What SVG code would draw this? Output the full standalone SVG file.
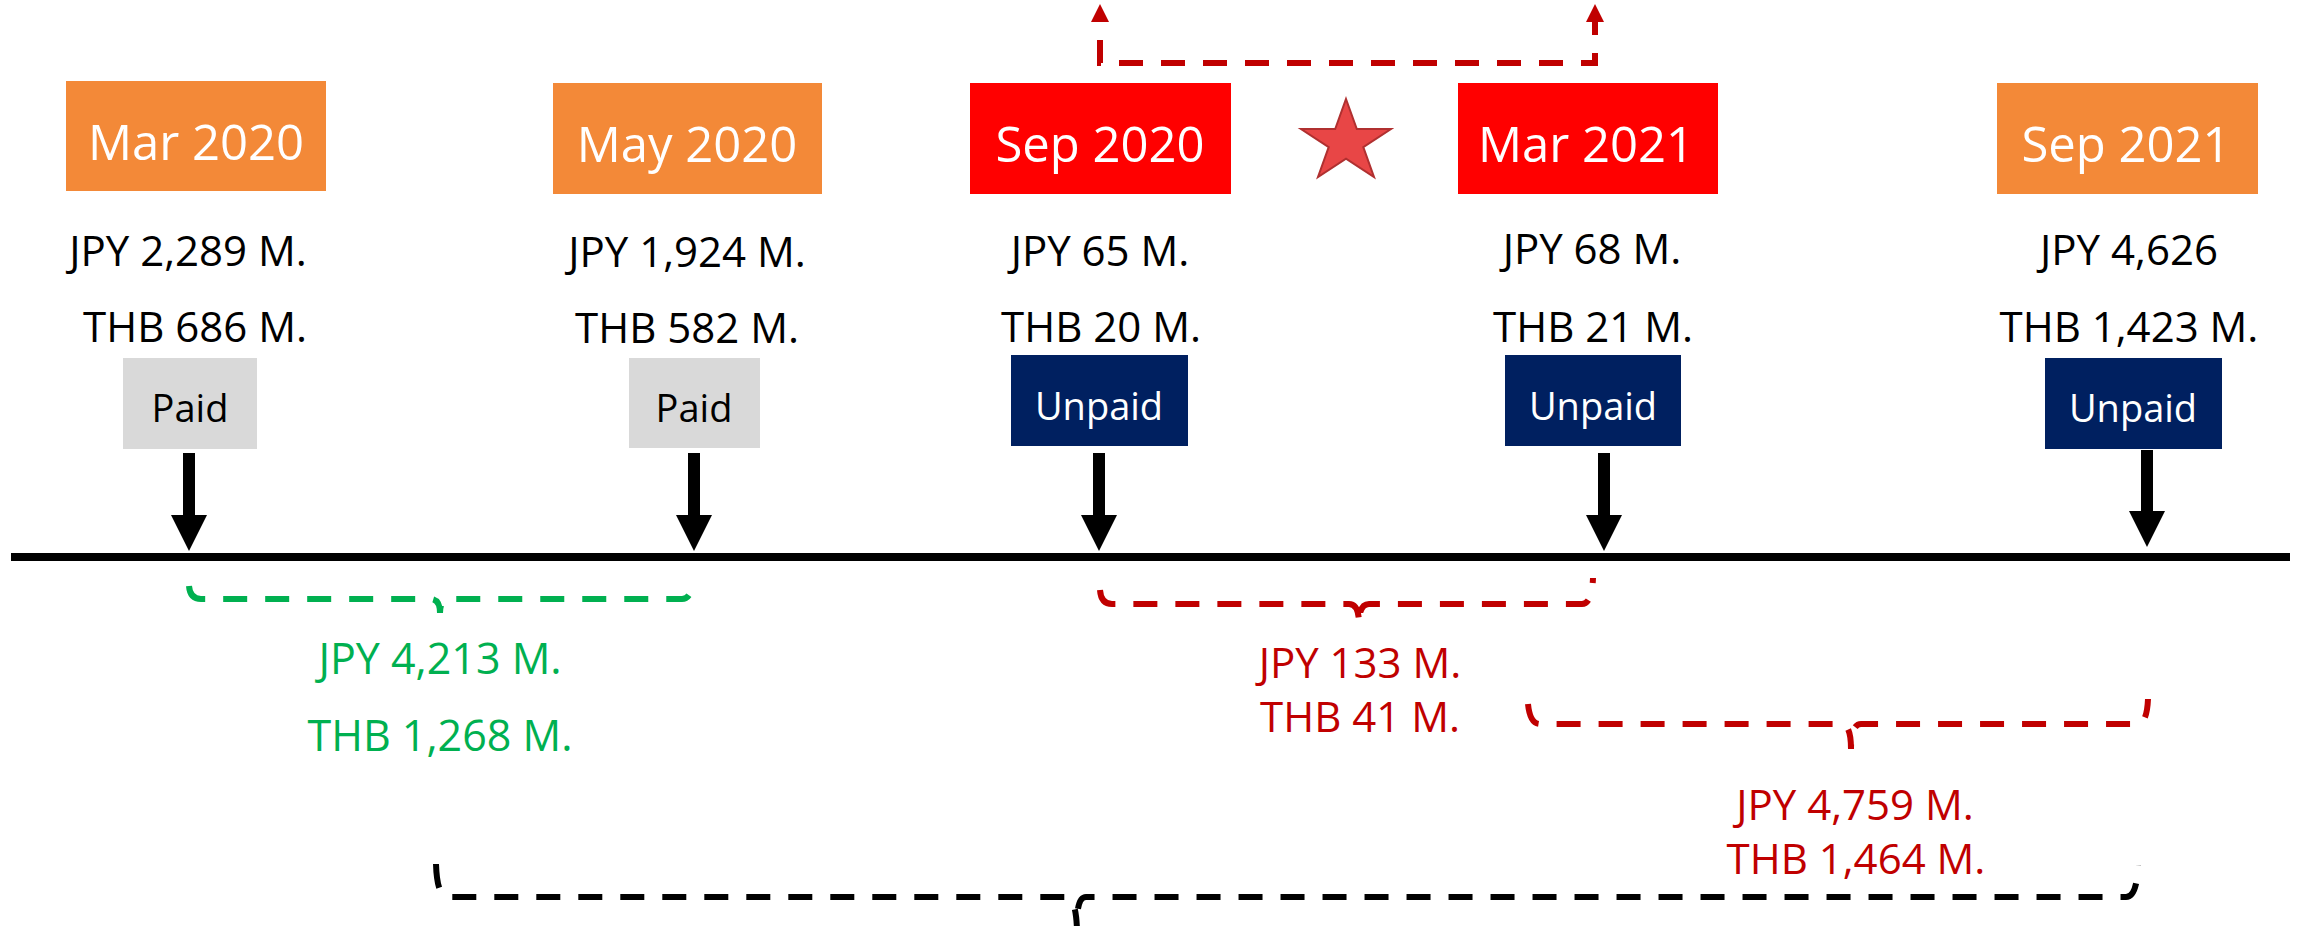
<svg xmlns="http://www.w3.org/2000/svg" width="2300" height="926" viewBox="0 0 2300 926">
<defs>
<style>
text{font-family:"Open Sans","Noto Sans","Liberation Sans",sans-serif;text-anchor:middle}
.date{font-size:49px;fill:#fff}
.amt{font-size:42px;fill:#000}
.tag{font-size:38px}
.orange{fill:#F38938}
.red{fill:#FF0000}
.paid{fill:#D9D9D9}
.unpaid{fill:#002060}
.shaft{stroke:#000;stroke-width:12;marker-end:url(#ah)}
.brace{fill:none;stroke-width:6;stroke-dasharray:24 18}
.green{fill:#00B050}
.dred{fill:#C00000}
</style>
<marker id="ah" markerUnits="userSpaceOnUse" markerWidth="36" markerHeight="36" viewBox="0 0 36 36" refX="0" refY="18" orient="auto">
<path d="M0,0 L36,18 L0,36 z" fill="#000"/>
</marker>
<marker id="rh" markerUnits="userSpaceOnUse" markerWidth="18" markerHeight="18" viewBox="0 0 18 18" refX="0" refY="9" orient="auto-start-reverse">
<path d="M0,0 L18,9 L0,18 z" fill="#C00000"/>
</marker>
</defs>
<rect width="2300" height="926" fill="#fff"/>

<g id="n-mar2020">
<rect class="orange" x="66" y="81" width="260" height="110"/>
<text class="date" x="196" y="160">Mar 2020</text>
<text class="amt" x="188" y="266">JPY 2,289 M.</text>
<text class="amt" x="195" y="342">THB 686 M.</text>
<rect class="paid" x="123" y="358" width="134" height="91"/>
<text class="tag" x="190" y="422" fill="#000">Paid</text>
</g>

<g id="n-may2020">
<rect class="orange" x="553" y="83" width="269" height="111"/>
<text class="date" x="687" y="162">May 2020</text>
<text class="amt" x="687" y="267">JPY 1,924 M.</text>
<text class="amt" x="687" y="343">THB 582 M.</text>
<rect class="paid" x="629" y="358" width="131" height="90"/>
<text class="tag" x="694" y="422" fill="#000">Paid</text>
</g>

<g id="n-sep2020">
<rect class="red" x="970" y="83" width="261" height="111"/>
<text class="date" x="1100" y="162">Sep 2020</text>
<text class="amt" x="1100" y="266">JPY 65 M.</text>
<text class="amt" x="1101" y="342">THB 20 M.</text>
<rect class="unpaid" x="1011" y="355" width="177" height="91"/>
<text class="tag" x="1099" y="420" fill="#fff">Unpaid</text>
</g>

<g id="n-star">
<polygon points="1346,99 1356.8,129 1391,129 1363.3,147.2 1374,177 1346,158.6 1318,177 1328.7,147.2 1301,129 1335.2,129" fill="#E84646" stroke="#B03030" stroke-width="2" stroke-linejoin="miter"/>
</g>

<g id="n-mar2021">
<rect class="red" x="1458" y="83" width="260" height="111"/>
<text class="date" x="1586" y="162">Mar 2021</text>
<text class="amt" x="1592" y="264">JPY 68 M.</text>
<text class="amt" x="1593" y="342">THB 21 M.</text>
<rect class="unpaid" x="1505" y="355" width="176" height="91"/>
<text class="tag" x="1593" y="420" fill="#fff">Unpaid</text>
</g>

<g id="n-sep2021">
<rect class="orange" x="1997" y="83" width="261" height="111"/>
<text class="date" x="2126" y="162">Sep 2021</text>
<text class="amt" x="2129" y="265">JPY 4,626</text>
<text class="amt" x="2129" y="342">THB 1,423 M.</text>
<rect class="unpaid" x="2045" y="358" width="177" height="91"/>
<text class="tag" x="2133" y="422" fill="#fff">Unpaid</text>
</g>

<g id="timeline">
<line x1="11" y1="557" x2="2290" y2="557" stroke="#000" stroke-width="8"/>
</g>

<g id="connectors">
<line class="shaft" x1="189" y1="453" x2="189" y2="515"/>
<line class="shaft" x1="694" y1="453" x2="694" y2="515"/>
<line class="shaft" x1="1099" y1="453" x2="1099" y2="515"/>
<line class="shaft" x1="1604" y1="453" x2="1604" y2="515"/>
<line class="shaft" x1="2147" y1="450" x2="2147" y2="511"/>
<path d="M1100,22 V63 H1595 V22" fill="none" stroke="#C00000" stroke-width="6" stroke-dasharray="24 18" stroke-dashoffset="24" marker-start="url(#rh)" marker-end="url(#rh)"/>
<path class="brace" stroke="#00B050" d="M189,586 Q190,599 201,599 H430 Q440,599 440,613 Q440,599 450,599 H682 Q692,599 693,579"/>
<path class="brace" stroke="#C00000" d="M1100,590 Q1101,604 1112,604 H1349 Q1359,604 1359,624 Q1359,604 1369,604 H1582 Q1592,604 1593,578"/>
<path class="brace" stroke="#C00000" d="M1528,704 Q1530,724 1540,724 H1841 Q1851,724 1851,749 Q1851,724 1861,724 H2137 Q2147,724 2148,699"/>
<path class="brace" stroke="#000" d="M436,864 Q437,897 448,897 H1066 Q1076,897 1077,930 Q1076,897 1086,897 H2126 Q2137,897 2138,865"/>
</g>

<g id="labels">
<text class="amt green" x="440" y="674" style="font-size:43px">JPY 4,213 M.</text>
<text class="amt green" x="440" y="751" style="font-size:43px">THB 1,268 M.</text>
<text class="amt dred" x="1360" y="678">JPY 133 M.</text>
<text class="amt dred" x="1360" y="732">THB 41 M.</text>
<text class="amt dred" x="1855" y="820">JPY 4,759 M.</text>
<text class="amt dred" x="1856" y="874">THB 1,464 M.</text>
</g>
</svg>
